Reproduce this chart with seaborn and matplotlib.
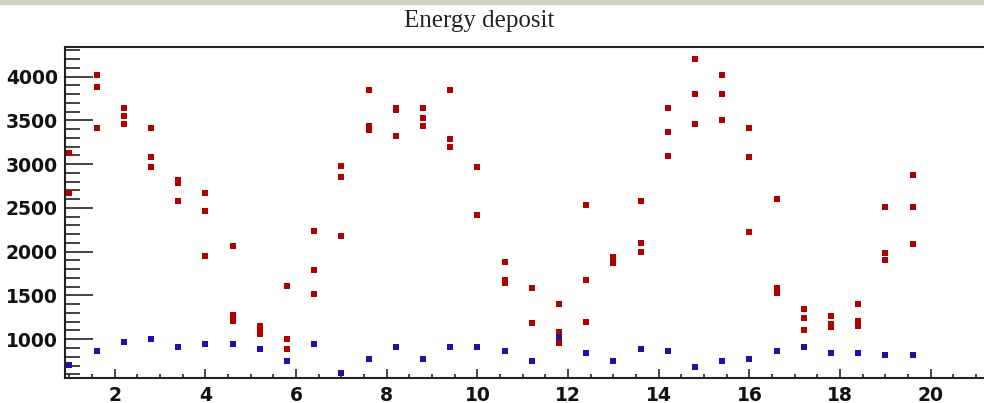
import matplotlib
matplotlib.use('Agg')
import matplotlib.pyplot as plt
import pandas as pd
import seaborn as sns
from matplotlib.patches import Rectangle
from matplotlib.ticker import MultipleLocator

# Data
step_x = [1.0, 1.6, 2.2, 2.8, 3.4, 4.0, 4.6, 5.2, 5.8, 6.4, 7.0, 7.6, 8.2, 8.8, 9.4, 10.0,
          10.6, 11.2, 11.8, 12.4, 13.0, 13.6, 14.2, 14.8, 15.4, 16.0, 16.6, 17.2, 17.8, 18.4, 19.0, 19.6]

blue_y = [711, 863, 974, 1000, 908, 951, 951, 886, 748, 951, 615, 771, 908, 771, 908, 908,
          863, 748, 1023, 840, 748, 886, 863, 683, 748, 771, 863, 908, 840, 840, 817, 817]

red_y = [
    [3124, 2673],
    [4023, 3886, 3413],
    [3639, 3551, 3459],
    [3413, 3078, 2964],
    [2819, 2781, 2578],
    [2673, 2464, 1946],
    [2060, 1275, 1209],
    [1149, 1107, 1065],
    [1606, 1000, 886],
    [2239, 1789, 1515],
    [2982, 2850, 2175],
    [3848, 3436, 3391],
    [3639, 3619, 3322],
    [3642, 3528, 3436],
    [3848, 3284, 3193],
    [2967, 2418],
    [1881, 1675, 1640],
    [1587, 1180],
    [1404, 1083, 958],
    [2533, 1675, 1202],
    [1941, 1866],
    [2582, 2098, 1998],
    [3639, 3368, 3097],
    [4203, 3799, 3459],
    [4023, 3799, 3505],
    [3413, 3078, 2220],
    [2598, 1591, 1530],
    [1340, 1248, 1111],
    [1271, 1172, 1141],
    [1404, 1209, 1149],
    [2510, 1984, 1904],
    [2872, 2510, 2083],
]

red_rows = [(x, v) for x, vals in zip(step_x, red_y) for v in vals]
red_df = pd.DataFrame(red_rows, columns=['x', 'energy'])
blue_df = pd.DataFrame({'x': step_x, 'energy': blue_y})

sns.set_style('white')
plt.rcParams['font.family'] = ['DejaVu Sans']

fig = plt.figure(figsize=(9.84, 4.03), dpi=100)
ax = fig.add_axes([0.066, 0.062, 0.949, 0.8214])

sns.scatterplot(data=red_df, x='x', y='energy', ax=ax, marker='s', s=19,
                color='#b00000', linewidth=0)
sns.scatterplot(data=blue_df, x='x', y='energy', ax=ax, marker='s', s=19,
                color='#2a0aa8', linewidth=0)

ax.set_xlim(0.9, 21.5)
ax.set_ylim(557, 4340)
ax.set_xlabel('')
ax.set_ylabel('')

ax.xaxis.set_major_locator(MultipleLocator(2))
ax.xaxis.set_minor_locator(MultipleLocator(0.5))
ax.yaxis.set_major_locator(MultipleLocator(500))
ax.yaxis.set_minor_locator(MultipleLocator(100))

# ROOT-like ticks: inside, on left and bottom only
ax.tick_params(axis='x', which='both', bottom=True, top=False)
ax.tick_params(axis='y', which='both', left=True, right=False)
ax.tick_params(axis='x', which='major', direction='in', length=6.7, width=1.1,
               labelsize=13.5, pad=5.5, color='#111111')
ax.tick_params(axis='x', which='minor', direction='in', length=3.2, width=1.1, color='#111111')
ax.tick_params(axis='y', which='major', direction='in', length=20, width=1.1,
               labelsize=13.5, pad=5, color='#111111')
ax.tick_params(axis='y', which='minor', direction='in', length=11, width=1.1, color='#111111')
for lab in ax.get_xticklabels() + ax.get_yticklabels():
    lab.set_fontweight('bold')
    lab.set_color('#111111')

for side in ['left', 'bottom', 'top', 'right']:
    ax.spines[side].set_linewidth(1.5)
    ax.spines[side].set_color('#222222')

fig.text(0.487, 0.947, 'Energy deposit', ha='center', va='center', fontsize=18,
         family='Liberation Serif', color='#222222')

fig.patches.append(Rectangle((0, 1 - 4 / 403), 1, 4 / 403, transform=fig.transFigure,
                             color='#d4d0c8', zorder=0))

fig.savefig('out.png', dpi=100)
